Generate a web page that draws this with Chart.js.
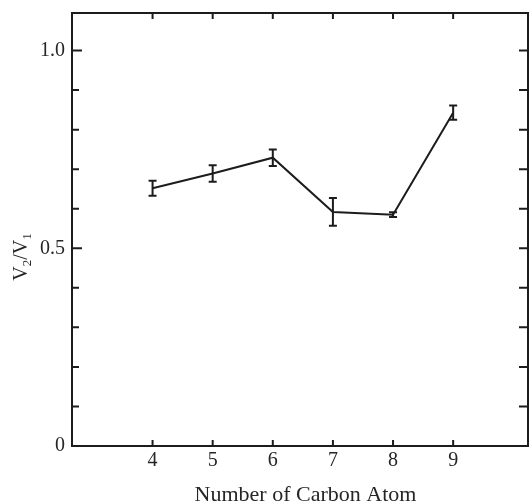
<!DOCTYPE html>
<html>
<head>
<meta charset="utf-8">
<script src="https://cdn.jsdelivr.net/npm/chart.js@4.4.1/dist/chart.umd.min.js"></script>
<style>
  html, body { margin: 0; padding: 0; background: #fff; }
  #wrap { width: 529px; height: 502px; }
</style>
</head>
<body>
<div id="wrap"><canvas id="myChart"></canvas></div>
<script>
const carbonAtoms = [4, 5, 6, 7, 8, 9];
const ratio = [0.652, 0.689, 0.729, 0.592, 0.585, 0.843];
const ratioError = [0.019, 0.021, 0.021, 0.035, 0.006, 0.018];

const xTicks = [4, 5, 6, 7, 8, 9];
const yTicks = [0, 0.1, 0.2, 0.3, 0.4, 0.5, 0.6, 0.7, 0.8, 0.9, 1.0];
const yMajor = [0, 0.5, 1.0];
const yTickLabels = ['0', '0.5', '1.0'];

const ink = '#1c1c1c';
const textInk = '#262626';
const serif = "'Liberation Serif', 'Times New Roman', serif";

// error bars, full frame, inward ticks and the V2/V1 title
const frameAndBars = {
    id: 'frameAndBars',
    afterDatasetsDraw(chart) {
        const { ctx, chartArea: a, scales: { x, y } } = chart;
        ctx.save();
        ctx.strokeStyle = ink;
        ctx.lineWidth = 2;
        ctx.lineCap = 'butt';

        ratio.forEach((v, i) => {
            const px = x.getPixelForValue(carbonAtoms[i]);
            const top = y.getPixelForValue(v + ratioError[i]);
            const bot = y.getPixelForValue(v - ratioError[i]);
            ctx.beginPath();
            ctx.moveTo(px, top); ctx.lineTo(px, bot);
            ctx.moveTo(px - 4, top); ctx.lineTo(px + 4, top);
            ctx.moveTo(px - 4, bot); ctx.lineTo(px + 4, bot);
            ctx.stroke();
        });

        ctx.strokeRect(a.left, a.top, a.width, a.height);

        ctx.beginPath();
        yTicks.forEach(v => {
            const py = y.getPixelForValue(v);
            const len = yMajor.includes(v) ? 10 : 7;
            ctx.moveTo(a.left, py); ctx.lineTo(a.left + len, py);
            ctx.moveTo(a.right, py); ctx.lineTo(a.right - 9, py);
        });
        xTicks.forEach(v => {
            const px = x.getPixelForValue(v);
            ctx.moveTo(px, a.bottom); ctx.lineTo(px, a.bottom - 6);
            ctx.moveTo(px, a.top); ctx.lineTo(px, a.top + 6);
        });
        ctx.stroke();

        // rotated axis title with subscripts
        const parts = [['V', 20, 0], ['2', 13, 4], ['/', 20, 0], ['V', 20, 0], ['1', 13, 4]];
        let w = 0;
        parts.forEach(p => { ctx.font = p[1] + 'px ' + serif; w += ctx.measureText(p[0]).width; });
        ctx.translate(27, 257);
        ctx.rotate(-Math.PI / 2);
        ctx.fillStyle = textInk;
        ctx.textBaseline = 'alphabetic';
        let cx = -w / 2;
        parts.forEach(p => {
            ctx.font = p[1] + 'px ' + serif;
            ctx.fillText(p[0], cx, p[2]);
            cx += ctx.measureText(p[0]).width;
        });
        ctx.restore();
    }
};

function renderLineChart() {
    const ctx = document.getElementById('myChart');

    new Chart(ctx, {
        type: 'line',
        data: {
            datasets: [{
                label: 'V2/V1',
                data: carbonAtoms.map((c, i) => ({ x: c, y: ratio[i] })),
                borderColor: ink,
                borderWidth: 2,
                pointRadius: 0,
                tension: 0,
                fill: false
            }]
        },
        options: {
            responsive: true,
            maintainAspectRatio: false,
            animation: false,
            layout: {
                padding: { left: 0, top: 13, right: 1, bottom: 0 }
            },
            plugins: {
                legend: { display: false },
                tooltip: { enabled: false }
            },
            scales: {
                x: {
                    type: 'linear',
                    min: 2.66,
                    max: 10.245,
                    afterBuildTicks: s => { s.ticks = xTicks.map(v => ({ value: v })); },
                    afterFit: s => { s.height = 56; s.paddingLeft = 0; s.paddingRight = 0; },
                    grid: { display: false, drawTicks: false },
                    border: { display: false },
                    ticks: {
                        padding: 3,
                        color: textInk,
                        font: { family: serif, size: 20 }
                    },
                    title: {
                        display: true,
                        text: '\u2002Number of Carbon Atom',
                        color: textInk,
                        font: { family: serif, size: 22, lineHeight: 1 },
                        padding: { top: 0, bottom: -4 }
                    }
                },
                y: {
                    min: 0,
                    max: 1.095,
                    afterBuildTicks: s => { s.ticks = yTicks.map(v => ({ value: v })); },
                    afterFit: s => { s.width = 72; s.paddingTop = 0; s.paddingBottom = 0; },
                    grid: { display: false, drawTicks: false },
                    border: { display: false },
                    ticks: {
                        padding: 7,
                        color: textInk,
                        font: { family: serif, size: 20 },
                        callback: v => {
                            const i = yMajor.indexOf(v);
                            return i >= 0 ? yTickLabels[i] : '';
                        }
                    }
                }
            }
        },
        plugins: [frameAndBars]
    });
}

renderLineChart();
</script>
</body>
</html>
